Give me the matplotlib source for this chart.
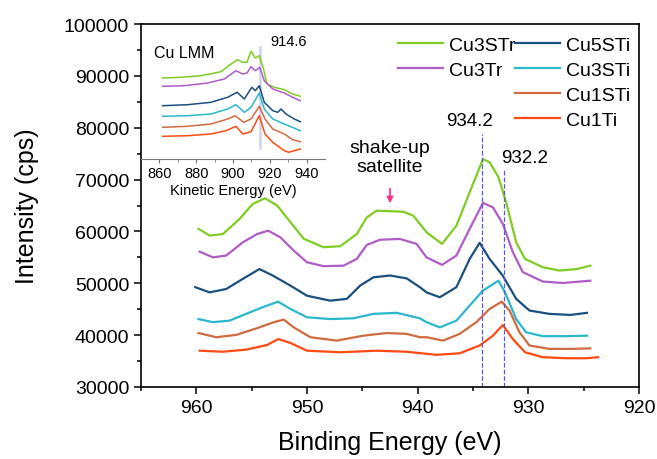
import matplotlib
matplotlib.use("Agg")
import matplotlib.pyplot as plt
from matplotlib.lines import Line2D

plt.rcParams['font.family'] = ['Liberation Sans', 'DejaVu Sans']

# XPS Cu 2p region (binding energy, eV / intensity, cps)
labels = ["Cu3STr", "Cu3Tr", "Cu5STi", "Cu3STi", "Cu1STi", "Cu1Ti"]
colors = ["#7fcd23", "#b05cc8", "#1a4f80", "#2ab8cc", "#d06a40", "#ff4a12"]

be_green = [959.8, 958.8, 957.6, 956.1, 954.9, 953.8, 952.7, 951.5, 950.3, 948.5, 947.0, 945.5, 944.6, 943.7,
            941.3, 940.4, 939.2, 937.8, 936.5, 935.3, 934.1, 933.5, 932.7, 932.0, 931.1, 930.3, 928.7, 927.2, 925.6, 924.4]
i_green = [60500, 59200, 59500, 62400, 65300, 66400, 65000, 61800, 58600, 56950, 57150, 59500, 62700, 64000,
           63800, 63050, 59850, 57600, 61100, 67550, 73950, 73350, 70450, 65600, 57900, 54700, 53100, 52450, 52750, 53400]

be_purple = [959.7, 958.5, 957.3, 955.8, 954.5, 953.5, 952.4, 951.2, 950.0, 948.5, 946.7, 945.5, 944.6, 943.4,
             941.6, 940.1, 939.2, 937.8, 936.5, 935.3, 934.1, 933.2, 932.3, 931.4, 930.5, 928.7, 926.9, 924.4]
i_purple = [56100, 55000, 55350, 57900, 59500, 60150, 58850, 56300, 54050, 53300, 53400, 54700, 57400, 58400,
            58550, 57600, 55000, 53550, 55350, 60500, 65500, 64650, 61450, 56000, 52150, 50350, 50050, 50500]

be_blue = [960.1, 958.8, 957.3, 955.8, 954.3, 953.1, 951.5, 950.0, 947.9, 946.4, 945.2, 944.0, 942.5, 941.0,
           939.8, 939.2, 938.0, 936.5, 935.3, 934.4, 933.5, 932.3, 931.1, 929.9, 928.1, 926.2, 924.7]
i_blue = [49250, 48250, 48900, 50850, 52750, 51500, 49550, 47600, 46650, 47000, 49550, 51150, 51500, 50950,
          49250, 48250, 47300, 49250, 54700, 57800, 54700, 51450, 47000, 44750, 44100, 43900, 44300]

be_cyan = [959.8, 958.5, 957.0, 955.5, 954.0, 952.6, 951.5, 950.0, 947.9, 945.8, 944.0, 941.9, 939.8, 939.2,
           938.0, 936.5, 935.3, 934.1, 932.7, 932.1, 931.1, 930.2, 928.7, 926.6, 924.7]
i_cyan = [43100, 42500, 42800, 44100, 45400, 46450, 45050, 43450, 43100, 43250, 44100, 44300, 43250, 42500,
          41500, 42800, 45700, 48600, 50500, 48250, 43100, 40550, 39800, 39800, 39900]

be_brown = [959.8, 958.2, 956.4, 954.5, 953.0, 952.1, 951.2, 949.7, 947.3, 944.9, 942.8, 941.0, 939.8, 939.2,
            937.7, 936.2, 934.7, 933.5, 932.4, 931.7, 930.8, 929.9, 928.1, 926.2, 924.4]
i_brown = [40400, 39600, 40050, 41350, 42500, 43000, 41500, 39600, 38950, 39900, 40400, 40250, 39600, 39600,
           38950, 40250, 42500, 45050, 46450, 44750, 40550, 38000, 37350, 37350, 37450]

be_red = [959.7, 957.6, 955.5, 953.6, 952.6, 951.5, 950.0, 947.0, 943.7, 941.0, 938.3, 936.2, 934.4, 933.2,
          932.3, 931.4, 930.3, 928.7, 926.6, 924.7, 923.7]
i_red = [37000, 36800, 37200, 38100, 39250, 38500, 37000, 36700, 37000, 36800, 36200, 36500, 38000, 39900,
         41950, 39250, 36700, 35750, 35550, 35550, 35750]

# Cu LMM inset (kinetic energy, eV / arbitrary units)
ke_green = [861.8, 871.7, 882.6, 893.5, 898.9, 902.5, 905.3, 907.6, 909.8, 912.1, 914.3, 916.1, 918.5, 922.5, 927.9, 932.4, 936.6]
a_green = [81, 81.7, 83.3, 87.3, 95, 99.3, 96.7, 96.7, 107.7, 101, 103.3, 93.3, 75, 71.7, 69.3, 65, 62.7]
ke_purple = [861.8, 873.5, 886.2, 895.3, 901.6, 905.3, 907.6, 909.8, 912.1, 914.5, 917.0, 921.6, 927.9, 932.4, 936.6]
a_purple = [72.7, 73.3, 76, 80, 88.3, 85, 86, 92.3, 88.3, 91.7, 78.3, 70, 66, 61.7, 58.3]
ke_blue = [861.8, 875.4, 888.0, 897.1, 902.2, 906.2, 910.2, 912.1, 914.3, 917.0, 921.6, 924.3, 926.1, 928.8, 933.3, 936.6]
a_blue = [53.3, 54.3, 56.7, 61.7, 66.7, 60, 71.7, 68.3, 73.3, 56.7, 48.3, 46.7, 50, 45, 40, 37.3]
ke_cyan = [861.8, 875.4, 888.0, 897.1, 901.6, 906.2, 909.8, 914.3, 917.0, 921.6, 927.9, 936.6]
a_cyan = [42.7, 43.3, 45, 50, 54.3, 46.7, 51.7, 66, 50, 40, 35, 28.3]
ke_brown = [861.8, 875.4, 888.0, 897.1, 901.1, 905.8, 909.8, 914.3, 917.4, 921.6, 927.9, 932.4, 936.6]
a_brown = [31.7, 32.7, 35, 40, 43.3, 36.7, 40, 52.7, 40, 30, 25, 19.3, 17.3]
ke_red = [861.8, 875.4, 888.0, 896.2, 901.6, 905.3, 909.8, 914.3, 917.4, 921.6, 927.9, 930.2, 936.6]
a_red = [22.7, 23.3, 25, 28.3, 32.7, 25, 27.3, 43.3, 25, 16.7, 8.3, 6.7, 10]

main_x = [be_green, be_purple, be_blue, be_cyan, be_brown, be_red]
main_y = [i_green, i_purple, i_blue, i_cyan, i_brown, i_red]
ins_x = [ke_green, ke_purple, ke_blue, ke_cyan, ke_brown, ke_red]
ins_y = [a_green, a_purple, a_blue, a_cyan, a_brown, a_red]

fig = plt.figure(figsize=(6.57, 4.6), dpi=100)
ax = fig.add_axes([141/657, 1-388/460, 498/657, 363/460])

for xs, ys, c, lab in zip(main_x, main_y, colors, labels):
    ax.plot(xs, ys, color=c, lw=1.6, label=lab)

ax.set_xlim(965, 920)
ax.set_ylim(30000, 100000)
ax.set_xticks([960, 950, 940, 930, 920])
ax.set_xticks([965, 955, 945, 935, 925], minor=True)
ax.set_yticks(range(30000, 100001, 10000))
ax.set_yticks(range(35000, 100000, 10000), minor=True)
ax.tick_params(labelsize=14, direction='out', length=5, width=1.1)
ax.tick_params(which='minor', length=3, width=1.1)
for s in ax.spines.values():
    s.set_linewidth(1.2)
ax.set_xlabel("Binding Energy (eV)", fontsize=18, labelpad=10)
ax.set_ylabel("Intensity (cps)", fontsize=18, labelpad=18)

# reference lines and labels
ax.plot([934.2, 934.2], [30000, 78800], ls='--', color='#5a5ad0', lw=0.9)
ax.plot([932.2, 932.2], [30000, 72000], ls='--', color='#5a5ad0', lw=0.9)
ax.text(935.3, 81300, "934.2", fontsize=13.5, ha='center', va='center')
ax.text(930.3, 74200, "932.2", fontsize=13.5, ha='center', va='center')
ax.text(942.5, 74300, "shake-up\nsatellite", fontsize=14, ha='center', va='center', linespacing=1.15)
ax.annotate("", xy=(942.5, 64900), xytext=(942.5, 68800),
            arrowprops=dict(arrowstyle='-|>', color='#ff2a8a', lw=1.2, mutation_scale=9))

# legend: 2 entries in first column, 4 in second
h, l = ax.get_legend_handles_labels()
blank = Line2D([], [], color='none')
hh = [h[0], h[1], blank, blank, h[2], h[3], h[4], h[5]]
ll = [l[0], l[1], "", "", l[2], l[3], l[4], l[5]]
fig.legend(hh, ll, ncol=2, loc='upper left', bbox_to_anchor=(398/657, 1-37/460),
           frameon=False, fontsize=14, handlelength=2.3, handletextpad=0.3,
           columnspacing=0.0, labelspacing=0.38, borderpad=0, borderaxespad=0)

# inset
ins = fig.add_axes([141/657, 1-160/460, 184/657, 135/460])
ins.patch.set_alpha(0)
for xs, ys, c in zip(ins_x, ins_y, colors):
    ins.plot(xs, ys, color=c, lw=1.1)
ins.plot([914.6, 914.6], [11, 112], color='#d2d2ee', lw=1.8, zorder=0)
ins.set_xlim(850, 950)
ins.set_ylim(0, 135)
ins.set_xticks([860, 880, 900, 920, 940])
ins.set_xticks([870, 890, 910, 930], minor=True)
ins.set_yticks([])
for side in ['top', 'right', 'left']:
    ins.spines[side].set_visible(False)
ins.spines['bottom'].set_color('#777777')
ins.tick_params(labelsize=10.5, length=3, color='#777777', pad=2)
ins.tick_params(which='minor', length=2, color='#777777')
ins.set_xlabel("Kinetic Energy (eV)", fontsize=10.5, labelpad=2)
ins.text(0.07, 0.79, "Cu LMM", fontsize=11.5, transform=ins.transAxes, va='center')
ins.text(0.80, 0.875, "914.6", fontsize=10.5, transform=ins.transAxes, ha='center', va='center')

fig.savefig("out.png", dpi=100)
